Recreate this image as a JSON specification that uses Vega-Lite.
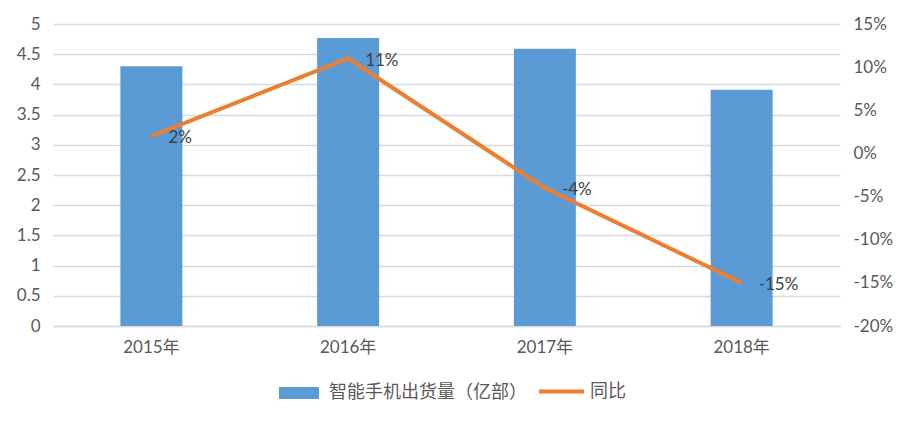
{
  "$schema": "https://vega.github.io/schema/vega-lite/v6.json",
  "width": 787,
  "height": 302,
  "autosize": "none",
  "padding": {"left": 53, "top": 24, "right": 67, "bottom": 100},
  "background": "white",
  "config": {
    "view": {"stroke": null},
    "font": "Lato, 'Noto Sans CJK SC'",
    "axis": {"labelFontSize": 17, "labelColor": "#595959", "ticks": false, "titleColor": "#595959", "labelFont": "Lato, 'Noto Sans CJK SC'"},
    "legend": {"labelFontSize": 18, "labelColor": "#595959", "labelFont": "Lato, 'Noto Sans CJK SC'", "labelLimit": 400}
  },
  "data": {
    "values": [
      {"year": "2015年", "shipments": 4.3, "yoy": 0.02, "label": "2%"},
      {"year": "2016年", "shipments": 4.77, "yoy": 0.11, "label": "11%"},
      {"year": "2017年", "shipments": 4.59, "yoy": -0.04, "label": "-4%"},
      {"year": "2018年", "shipments": 3.91, "yoy": -0.15, "label": "-15%"}
    ]
  },
  "encoding": {
    "x": {
      "field": "year", "type": "nominal", "sort": null,
      "scale": {"paddingInner": 0.685, "paddingOuter": 0.3425},
      "axis": {"title": null, "labelAngle": 0, "labelPadding": 13, "domain": true, "domainColor": "#d9d9d9", "domainWidth": 1.5}
    }
  },
  "layer": [
    {
      "mark": {"type": "bar", "color": "#5B9BD5"},
      "encoding": {
        "y": {
          "field": "shipments", "type": "quantitative",
          "scale": {"domain": [0, 5], "nice": false},
          "axis": {"title": null, "orient": "left", "values": [0, 0.5, 1, 1.5, 2, 2.5, 3, 3.5, 4, 4.5, 5], "format": ".1~f", "domain": false, "grid": true, "gridColor": "#d9d9d9", "gridWidth": 1.5, "labelPadding": 13}
        },
        "fill": {
          "datum": "智能手机出货量（亿部）",
          "scale": {"range": ["#5B9BD5"]},
          "legend": {"title": null, "orient": "none", "legendX": 226, "legendY": 349, "symbolType": "M-1,-0.3H1V0.3H-1Z", "symbolSize": 1600, "symbolStrokeWidth": 0, "symbolOpacity": 1, "labelOffset": 10}
        }
      }
    },
    {
      "encoding": {
        "y": {
          "field": "yoy", "type": "quantitative",
          "scale": {"domain": [-0.2, 0.15], "nice": false},
          "axis": {"title": null, "orient": "right", "values": [-0.2, -0.15, -0.1, -0.05, 0, 0.05, 0.1, 0.15], "format": ".0%", "labelExpr": "replace(datum.label, '−', '-')", "domain": false, "grid": false, "labelPadding": 13}
        }
      },
      "layer": [
        {
          "mark": {"type": "line", "strokeWidth": 4, "color": "#ED7D31"},
          "encoding": {
            "stroke": {
              "datum": "同比",
              "scale": {"range": ["#ED7D31"]},
              "legend": {"title": null, "orient": "none", "legendX": 484, "legendY": 343, "symbolType": "stroke", "symbolSize": 2025, "symbolStrokeWidth": 4, "labelOffset": 4}
            }
          }
        },
        {
          "mark": {"type": "text", "align": "left", "baseline": "middle", "dx": 17, "dy": 2, "fontSize": 17, "color": "#404040"},
          "encoding": {"text": {"field": "label"}}
        }
      ]
    }
  ],
  "resolve": {"scale": {"y": "independent"}}
}
